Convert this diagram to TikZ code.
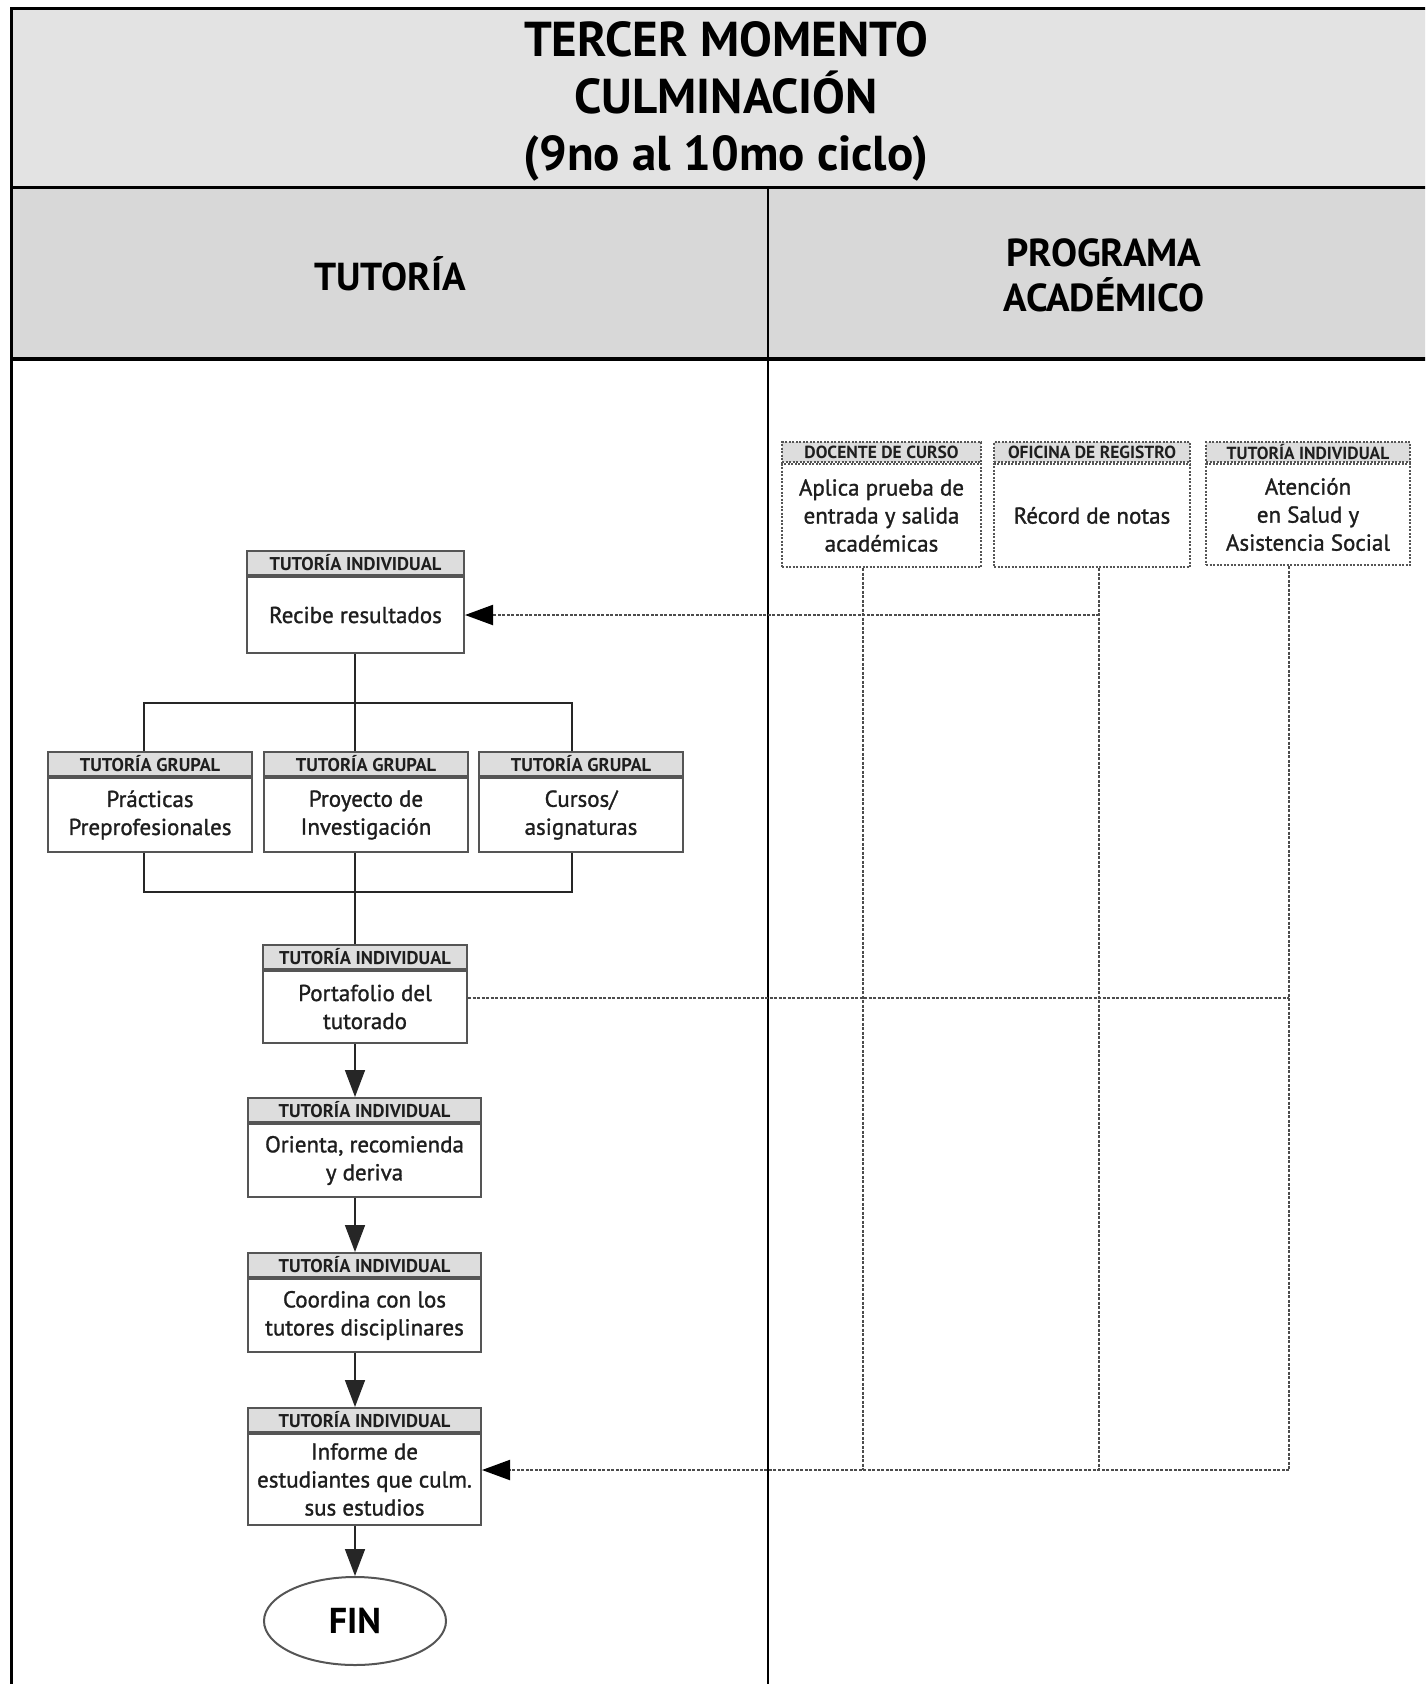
\documentclass[tikz,border=0pt]{standalone}
\usepackage{fontspec}
\setmainfont{PT Sans}
\newfontfamily\cuerpo[FakeBold=1.2]{PT Sans}
\usetikzlibrary{arrows.meta}
\usetikzlibrary{shapes.geometric}
\definecolor{borde}{RGB}{85,85,85}
\definecolor{franja}{RGB}{221,221,221}
\definecolor{banda}{RGB}{227,227,227}
\definecolor{encab}{RGB}{216,216,216}
\definecolor{texto}{RGB}{30,30,30}

\begin{document}
\begin{tikzpicture}[x=1pt, y=-1pt,
	caja/.style={draw=borde, line width=2pt, fill=white, text=texto, align=center, inner sep=0pt, font=\cuerpo\fontsize{23}{28}\selectfont},
	cabeza/.style={draw=borde, line width=2pt, fill=franja, anchor=south, inner sep=0pt, minimum height=24, text=texto, font=\bfseries\fontsize{18.5}{18.5}\selectfont},
	cajap/.style={caja, draw=borde, dash pattern=on 2pt off 1.5pt},
	cabezap/.style={cabeza, minimum height=20, dash pattern=on 2pt off 1.5pt, font=\bfseries\fontsize{17.5}{17.5}\selectfont},
	linea/.style={draw=black!85, line width=1.6pt},
	flecha/.style={linea, -{Triangle[length=27pt, width=20pt]}},
	punteado/.style={draw=black!70, line width=2pt, dash pattern=on 3pt off 1.5pt},
	punta/.style={punteado, -{Triangle[length=28pt, width=20pt, color=black]}}]

	\path[use as bounding box, clip] (0,0) rectangle (1425,1684);

	% Bandas de encabezado
	\fill[banda] (11,8) rectangle (1445,187);
	\fill[encab] (11,187) rectangle (1445,359);
	\draw[line width=3pt] (1445,8) -- (11,8) -- (11,1700);
	\draw[line width=3pt] (11,187) -- (1445,187);
	\draw[line width=4pt] (11,359) -- (1445,359);
	\draw[line width=2pt] (768,187) -- (768,1700);

	\node[align=center, font=\bfseries\fontsize{49}{57}\selectfont] (tit) at (726,101) {TERCER MOMENTO\\CULMINACIÓN\\(9no al 10mo ciclo)};
	\node[font=\bfseries\fontsize{39}{45}\selectfont] (tut) at (390,274) {TUTORÍA};
	\node[align=center, font=\bfseries\fontsize{39}{45}\selectfont] (prog) at (1104,275) {PROGRAMA\\ACADÉMICO};

	% Programa academico
	\node[cajap, minimum width=199, minimum height=103] (doc) at (881.5,515.5) {Aplica prueba de\\entrada y salida\\académicas};
	\node[cabezap, minimum width=199] (docT) at (doc.north) {DOCENTE DE CURSO};

	\node[cajap, minimum width=196, minimum height=103] (ofi) at (1092,515.5) {Récord de notas};
	\node[cabezap, minimum width=196] (ofiT) at (ofi.north) {OFICINA DE REGISTRO};

	\node[cajap, minimum width=204, minimum height=101] (tin) at (1308,514.5) {Atención\\en Salud y\\Asistencia Social};
	\node[cabezap, minimum width=204] (tinT) at (tin.north) {TUTORÍA INDIVIDUAL};

	% Tutoria
	\node[caja, minimum width=217, minimum height=76] (rec) at (355.5,615) {Recibe resultados};
	\node[cabeza, minimum width=217] (recT) at (rec.north) {TUTORÍA INDIVIDUAL};

	\node[caja, minimum width=204, minimum height=74] (prac) at (150,815) {Prácticas\\Preprofesionales};
	\node[cabeza, minimum width=204] (pracT) at (prac.north) {TUTORÍA GRUPAL};

	\node[caja, minimum width=204, minimum height=74] (proy) at (366,815) {Proyecto de\\Investigación};
	\node[cabeza, minimum width=204] (proyT) at (proy.north) {TUTORÍA GRUPAL};

	\node[caja, minimum width=204, minimum height=74] (curs) at (581,815) {Cursos/\\asignaturas};
	\node[cabeza, minimum width=204] (cursT) at (curs.north) {TUTORÍA GRUPAL};

	\node[caja, minimum width=204, minimum height=72] (port) at (365,1007) {Portafolio del\\tutorado};
	\node[cabeza, minimum width=204] (portT) at (port.north) {TUTORÍA INDIVIDUAL};

	\node[caja, minimum width=233, minimum height=73] (ori) at (364.5,1160.5) {Orienta, recomienda\\y deriva};
	\node[cabeza, minimum width=233] (oriT) at (ori.north) {TUTORÍA INDIVIDUAL};

	\node[caja, minimum width=233, minimum height=73] (coo) at (364.5,1315.5) {Coordina con los\\tutores disciplinares};
	\node[cabeza, minimum width=233] (cooT) at (coo.north) {TUTORÍA INDIVIDUAL};

	\node[caja, minimum width=233, minimum height=91] (inf) at (364.5,1479.5) {Informe de\\estudiantes que culm.\\sus estudios};
	\node[cabeza, minimum width=233] (infT) at (inf.north) {TUTORÍA INDIVIDUAL};

	\node[draw=borde, line width=2pt, ellipse, minimum width=182, minimum height=88, inner sep=0pt, font=\bfseries\fontsize{36}{36}\selectfont] (fin) at (355,1621) {FIN};

	% Conectores
	\coordinate (eje) at (355,0);
	\coordinate (ramA) at (355,703);
	\coordinate (ramB) at (355,892);
	\coordinate (ramIzq) at (144,703);
	\coordinate (ramDer) at (572,703);

	\draw[linea] (eje |- rec.south) -- (ramA);
	\draw[linea] (ramIzq |- pracT.north) -- (ramIzq) -- (ramDer) -- (ramDer |- cursT.north);
	\draw[linea] (ramA) -- (eje |- proyT.north);
	\draw[linea] (ramIzq |- prac.south) -- (ramIzq |- ramB) -- (ramDer |- ramB) -- (ramDer |- curs.south);
	\draw[linea] (eje |- proy.south) -- (eje |- portT.north);

	\draw[flecha] (eje |- port.south) -- (eje |- oriT.north);
	\draw[flecha] (eje |- ori.south) -- (eje |- cooT.north);
	\draw[flecha] (eje |- coo.south) -- (eje |- infT.north);
	\draw[flecha] (eje |- inf.south) -- (fin.north);

	% Lineas punteadas
	\coordinate (xDoc) at (863,1470);
	\coordinate (xOfi) at (1099,1470);
	\coordinate (xTin) at (1289,1470);
	\coordinate (yPort) at (0,998);

	\draw[punteado] (xDoc |- doc.south) -- (xDoc);
	\draw[punteado] (xOfi |- ofi.south) -- (xOfi);
	\draw[punteado] (xTin |- tin.south) -- (xTin);
	\draw[punta] (xOfi |- rec.east) -- (rec.east);
	\draw[punteado] (port.east |- yPort) -- (xTin |- yPort);
	\draw[punta] (xTin) -- (inf.east |- xTin);
\end{tikzpicture}
\end{document}
